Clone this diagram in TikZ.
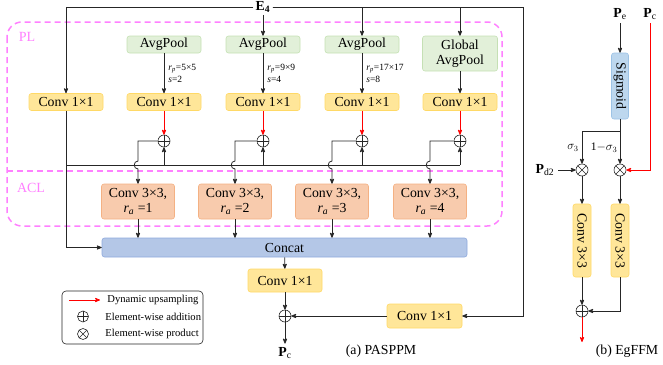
\documentclass[tikz,border=0pt]{standalone}
\usepackage{fontspec}
\setmainfont{Liberation Serif}
\usepackage{tikz}
\usetikzlibrary{arrows}

\definecolor{convfill}{HTML}{FFE699}
\definecolor{convdraw}{HTML}{FFD966}
\definecolor{poolfill}{HTML}{E2F0D9}
\definecolor{pooldraw}{HTML}{C5E0B4}
\definecolor{aclfill}{HTML}{F8CBAD}
\definecolor{acldraw}{HTML}{F4B183}
\definecolor{catfill}{HTML}{B4C7E7}
\definecolor{catdraw}{HTML}{8FAADC}
\definecolor{sigfill}{HTML}{BDD7EE}
\definecolor{sigdraw}{HTML}{9DC3E6}
\definecolor{pldash}{RGB}{255,128,255}

\begin{document}
\begin{tikzpicture}[x=1pt,y=-1pt,>=stealth',line width=0.8pt,draw=black!85,
  every node/.style={font=\fontsize{13.8}{15}\selectfont},
  box/.style={draw,rounded corners=2.5pt,inner sep=0pt,line width=0.6pt,
    minimum width=74pt,minimum height=17pt},
  conv node/.style={box,fill=convfill,draw=convdraw},
  pool node/.style={box,fill=poolfill,draw=pooldraw},
  acl node/.style={box,fill=aclfill,draw=acldraw,minimum width=73pt,
    minimum height=35pt,align=center},
  cat node/.style={box,fill=catfill,draw=catdraw,minimum width=365pt,minimum height=19pt},
  sig node/.style={box,fill=sigfill,draw=sigdraw,rotate=-90,minimum width=66pt},
  plus node/.style={circle,draw,inner sep=0pt,minimum size=12pt,line width=0.6pt,
    path picture={\draw[line width=0.6pt] (path picture bounding box.north) -- (path picture bounding box.south)
      (path picture bounding box.west) -- (path picture bounding box.east);}},
  times node/.style={circle,draw,inner sep=0pt,minimum size=12pt,line width=0.6pt,
    path picture={\draw[line width=0.6pt] (path picture bounding box.north west) -- (path picture bounding box.south east)
      (path picture bounding box.north east) -- (path picture bounding box.south west);}},
  note/.style={anchor=west,align=left,inner sep=0pt,font=\fontsize{9.5}{12}\selectfont},
  legend text/.style={anchor=west,inner sep=0pt,font=\fontsize{10.6}{12}\selectfont},
  region/.style={draw=pldash,dash pattern=on 6pt off 4pt,line width=1.5pt},
  region label/.style={text=pldash,font=\fontsize{14}{16}\selectfont}]

  \useasboundingbox (0,0) rectangle (663,364);

  % PL / ACL region
  \draw[region,rounded corners=15pt] (7,22) rectangle (502,226);
  \draw[region] (7,171) -- (502,171);
  \node[region label] (pl) at (27,37) {PL};
  \node[region label] (acl) at (31,188) {ACL};

  % (a) PASPPM
  \node[fill=white,inner sep=2pt] (e4) at (263,7) {\textbf{E\textsubscript{4}}};
  \node[pool node] (ap1) at (164,44.5) {AvgPool};
  \node[pool node] (ap2) at (263,44.5) {AvgPool};
  \node[pool node] (ap3) at (362,44.5) {AvgPool};
  \node[pool node,minimum width=75pt,minimum height=35pt,align=center] (ap4) at (460,53.5) {Global\\AvgPool};

  \node[note] (n1) at (168,73.5) {\textit{r}\textsubscript{\textit{p}}=5×5\\\textit{s}=2};
  \node[note] (n2) at (267,73.5) {\textit{r}\textsubscript{\textit{p}}=9×9\\\textit{s}=4};
  \node[note] (n3) at (366,73.5) {\textit{r}\textsubscript{\textit{p}}=17×17\\\textit{s}=8};

  \node[conv node] (cv0) at (66,102) {Conv 1×1};
  \node[conv node] (cv1) at (164,102) {Conv 1×1};
  \node[conv node] (cv2) at (263,102) {Conv 1×1};
  \node[conv node] (cv3) at (362,102) {Conv 1×1};
  \node[conv node] (cv4) at (460,102) {Conv 1×1};

  \node[plus node] (p1) at (164,141) {};
  \node[plus node] (p2) at (263,141) {};
  \node[plus node] (p3) at (362,141) {};
  \node[plus node] (p4) at (460,141) {};

  \node[acl node] (a1) at (138,201.5) {Conv 3×3,\\\textit{r}\textsubscript{\textit{a}} =1};
  \node[acl node] (a2) at (235,201.5) {Conv 3×3,\\\textit{r}\textsubscript{\textit{a}} =2};
  \node[acl node] (a3) at (332,201.5) {Conv 3×3,\\\textit{r}\textsubscript{\textit{a}} =3};
  \node[acl node] (a4) at (430,201.5) {Conv 3×3,\\\textit{r}\textsubscript{\textit{a}} =4};

  \node[cat node] (cat) at (284.5,247.5) {Concat};
  \node[conv node,minimum height=23pt] (cv5) at (285,280.5) {Conv 1×1};
  \node[plus node] (p5) at (285,316) {};
  \node[conv node,minimum width=75pt,minimum height=24pt] (cv6) at (424.5,316) {Conv 1×1};
  \node (pc) at (285,353) {\textbf{P}\textsubscript{c}};
  \node (capa) at (381,351) {(a) PASPPM};

  \coordinate (bus) at (66,165);
  \coordinate (busend) at (460,165);
  \coordinate (rt) at (523,316);

  \draw[->] (e4.west) -| (cv0);
  \draw[->] (e4) -- (ap2);
  \draw[->] (e4.east) -| (ap3);
  \draw[->] (e4.east) -| (ap4);
  \draw[->] (e4.east) -| (rt) -- (cv6);
  \draw[->] (cv0) |- (cat);
  \draw (bus) -- (busend);
  \foreach \i in {1,2,3,4} {
    \draw[->] (ap\i) -- (cv\i);
    \draw[->,red] (cv\i) -- (p\i);
    \draw[->] (bus -| p\i) -- (p\i);
    \coordinate (h\i) at (a\i.north |- bus);
    \draw[->] (p\i.west) -| ([yshift=4pt]h\i) .. controls ([shift={(-5pt,4pt)}]h\i)
      and ([shift={(-5pt,-4pt)}]h\i) .. ([yshift=-4pt]h\i) -- (a\i.north);
    \draw[->] (a\i.south) -- (a\i.south |- cat.north);
  }
  \draw[->] (cat) -- (cv5);
  \draw[->] (cv5) -- (p5);
  \draw[->] (cv6) -- (p5);
  \draw[->] (p5) -- (pc);

  % legend
  \node[draw,rounded corners=4pt,line width=0.6pt,minimum width=141pt,minimum height=53pt] (leg) at (132.5,317.5) {};
  \coordinate (l1) at (69,300);
  \coordinate (l2) at (100,300);
  \draw[->,red] (l1) -- (l2);
  \node[plus node,minimum size=11pt] (lp) at (83,316.5) {};
  \node[times node,minimum size=11pt] (lx) at (83,334) {};
  \node[legend text] (lt1) at (107,300) {Dynamic upsampling};
  \node[legend text] (lt2) at (105,316.5) {Element-wise addition};
  \node[legend text] (lt3) at (105,334) {Element-wise product};

  % (b) EgFFM
  \node (pe) at (620,14) {\textbf{P}\textsubscript{e}};
  \node (pc2) at (650,14) {\textbf{P}\textsubscript{c}};
  \node[sig node] (sig) at (620,86) {Sigmoid};
  \node[times node] (t1) at (582,170) {};
  \node[times node] (t2) at (620,170) {};
  \node (pd) at (545,170) {\textbf{P}\textsubscript{d2}};
  \node[font=\fontsize{11.5}{12}\selectfont] (s1) at (573,148) {$\sigma_3$};
  \node[font=\fontsize{11.5}{12}\selectfont] (s2) at (604,148) {1$-\sigma_3$};
  \node[conv node,rotate=-90,minimum width=73pt,minimum height=18pt] (c31) at (582,240.5) {Conv 3×3};
  \node[conv node,rotate=-90,minimum width=73pt,minimum height=18pt] (c32) at (620,240.5) {Conv 3×3};
  \node[plus node] (p6) at (582,311) {};
  \coordinate (split) at (620,131);
  \coordinate (out) at (582,342);
  \node (capb) at (627,351) {(b) EgFFM};

  \draw[->] (pe) -- (sig);
  \draw[->] (sig) -- (t2);
  \draw[->] (split) -| (t1);
  \draw[->,red] (pc2) |- (t2);
  \draw[->] (pd) -- (t1);
  \draw[->] (t1) -- (c31);
  \draw[->] (t2) -- (c32);
  \draw[->] (c31) -- (p6);
  \draw[->] (c32) |- (p6);
  \draw[->,red] (p6) -- (out);

\end{tikzpicture}
\end{document}
